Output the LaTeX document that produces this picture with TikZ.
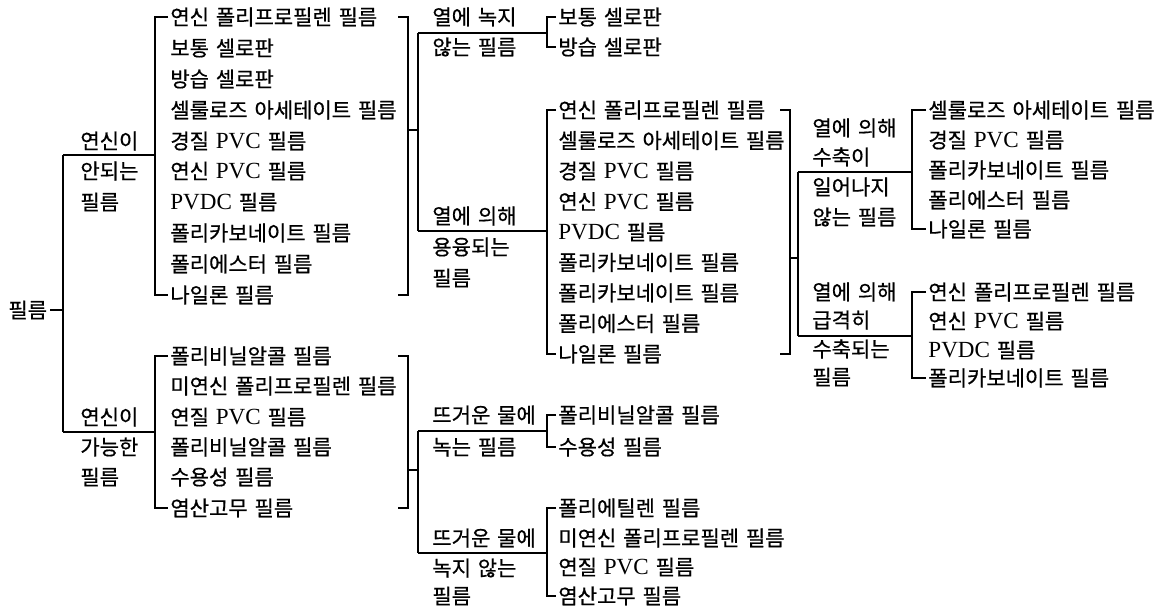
\documentclass[tikz,border=0pt]{standalone}
\usepackage{fontspec}
\setmainfont{Liberation Serif}
\newfontfamily\krfont[WordSpace=1.45,FakeBold=0.6]{Noto Sans CJK KR}
\newfontfamily\latfont[Scale=1.1]{Liberation Serif}
\newcommand{\lat}[1]{{\latfont #1}}
\usetikzlibrary{calc}
\tikzset{
  txt/.style={anchor=west,inner sep=0pt,font=\krfont\fontsize{10.5pt}{12pt}\selectfont},
  ln/.style={line width=0.75pt}
}
% left bracket from first node to last node, #3 = distance of bracket from text
\newcommand{\lbrk}[3]{\draw[ln] ($(#1.west)+(-2,0)$) -- ($(#1.west)+(-#3,0)$) -- ($(#2.west)+(-#3,0)$) -- ($(#2.west)+(-2,0)$);}
% right bracket at x of coordinate #3
\newcommand{\rbrk}[3]{\draw[ln] ($(#1.west -| #3)+(-10,0)$) -- (#1.west -| #3) -- (#2.west -| #3) -- ($(#2.west -| #3)+(-10,0)$);}
\begin{document}
\begin{tikzpicture}[x=0.5pt,y=-0.5pt]
\useasboundingbox (0,0) rectangle (1158,614);

% root
\node[txt] (root) at (8,310) {필름};

% level 1 labels
\node[txt] (la1) at (80,141) {연신이};
\node[txt] (la2) at (80,171) {안되는};
\node[txt] (la3) at (80,202) {필름};
\node[txt] (lb1) at (80,417) {연신이};
\node[txt] (lb2) at (80,447) {가능한};
\node[txt] (lb3) at (80,477) {필름};

% list 1
\node[txt] (l1a) at (170,17)  {연신 폴리프로필렌 필름};
\node[txt] (l1b) at (170,48)  {보통 셀로판};
\node[txt] (l1c) at (170,79)  {방습 셀로판};
\node[txt] (l1d) at (170,110) {셀룰로즈 아세테이트 필름};
\node[txt] (l1e) at (170,141) {경질 \lat{PVC} 필름};
\node[txt] (l1f) at (170,171) {연신 \lat{PVC} 필름};
\node[txt] (l1g) at (170,202) {\lat{PVDC} 필름};
\node[txt] (l1h) at (170,233) {폴리카보네이트 필름};
\node[txt] (l1i) at (170,264) {폴리에스터 필름};
\node[txt] (l1j) at (170,295) {나일론 필름};

% list 2
\node[txt] (l2a) at (170,356) {폴리비닐알콜 필름};
\node[txt] (l2b) at (170,386) {미연신 폴리프로필렌 필름};
\node[txt] (l2c) at (170,417) {연질 \lat{PVC} 필름};
\node[txt] (l2d) at (170,447) {폴리비닐알콜 필름};
\node[txt] (l2e) at (170,477) {수용성 필름};
\node[txt] (l2f) at (170,508) {염산고무 필름};

% level 2 labels
\node[txt] (bl1) at (432,17)  {열에 녹지};
\node[txt] (bl2) at (432,47)  {않는 필름};
\node[txt] (bm1) at (432,216) {열에 의해};
\node[txt] (bm2) at (432,247) {용융되는};
\node[txt] (bm3) at (432,278) {필름};
\node[txt] (cl1) at (432,415) {뜨거운 물에};
\node[txt] (cl2) at (432,447) {녹는 필름};
\node[txt] (cm1) at (432,538) {뜨거운 물에};
\node[txt] (cm2) at (432,568) {녹지 않는};
\node[txt] (cm3) at (432,596) {필름};

% sublist B1
\node[txt] (sa1) at (558,17) {보통 셀로판};
\node[txt] (sa2) at (558,47) {방습 셀로판};
% sublist B2
\node[txt] (sb1) at (558,110)   {연신 폴리프로필렌 필름};
\node[txt] (sb2) at (558,140.5) {셀룰로즈 아세테이트 필름};
\node[txt] (sb3) at (558,171)   {경질 \lat{PVC} 필름};
\node[txt] (sb4) at (558,201.5) {연신 \lat{PVC} 필름};
\node[txt] (sb5) at (558,232)   {\lat{PVDC} 필름};
\node[txt] (sb6) at (558,262.5) {폴리카보네이트 필름};
\node[txt] (sb7) at (558,293)   {폴리카보네이트 필름};
\node[txt] (sb8) at (558,323.5) {폴리에스터 필름};
\node[txt] (sb9) at (558,354)   {나일론 필름};
% sublist C1
\node[txt] (sc1) at (558,415) {폴리비닐알콜 필름};
\node[txt] (sc2) at (558,447) {수용성 필름};
% sublist C2
\node[txt] (sd1) at (558,508) {폴리에틸렌 필름};
\node[txt] (sd2) at (558,538) {미연신 폴리프로필렌 필름};
\node[txt] (sd3) at (558,567) {연질 \lat{PVC} 필름};
\node[txt] (sd4) at (558,596) {염산고무 필름};

% level 3 labels
\node[txt] (dl1) at (812,128) {열에 의해};
\node[txt] (dl2) at (812,157) {수축이};
\node[txt] (dl3) at (812,187) {일어나지};
\node[txt] (dl4) at (812,217) {않는 필름};
\node[txt] (dm1) at (812,292) {열에 의해};
\node[txt] (dm2) at (812,320) {급격히};
\node[txt] (dm3) at (812,349) {수축되는};
\node[txt] (dm4) at (812,377) {필름};

% sublist D1
\node[txt] (ta1) at (928,110) {셀룰로즈 아세테이트 필름};
\node[txt] (ta2) at (928,140) {경질 \lat{PVC} 필름};
\node[txt] (ta3) at (928,170) {폴리카보네이트 필름};
\node[txt] (ta4) at (928,200) {폴리에스터 필름};
\node[txt] (ta5) at (928,229) {나일론 필름};
% sublist D2
\node[txt] (tb1) at (928,292) {연신 폴리프로필렌 필름};
\node[txt] (tb2) at (928,321) {연신 \lat{PVC} 필름};
\node[txt] (tb3) at (928,350) {\lat{PVDC} 필름};
\node[txt] (tb4) at (928,378) {폴리카보네이트 필름};

% ---------- coordinates ----------
\coordinate (ra) at (63,155);
\coordinate (rb) at (63,432);
\coordinate (bx1) at ($(l1a.west)+(-15,0)$);
\coordinate (X1) at (408,0);
\coordinate (s1) at (408,130);
\coordinate (s2) at (408,470);
\coordinate (v1t) at (418,33);
\coordinate (v1b) at (418,231);
\coordinate (v2t) at (418,431);
\coordinate (v2b) at (418,553);
\coordinate (bx2) at ($(sa1.west)+(-11,0)$);
\coordinate (X2) at (790,0);
\coordinate (s3) at (790,258);
\coordinate (v3t) at (798,172);
\coordinate (v3b) at (798,336);
\coordinate (bx3) at ($(ta1.west)+(-16,0)$);

% ---------- connectors ----------
% root
\draw[ln] ($(root.east)+(3,0)$) -- (root.east -| ra);
\draw[ln] (ra) -- (rb);
\draw[ln] (ra) -- (ra -| bx1);
\draw[ln] (rb) -- (rb -| bx1);
% list brackets
\lbrk{l1a}{l1j}{15}
\lbrk{l2a}{l2f}{15}
\rbrk{l1a}{l1j}{X1}
\rbrk{l2a}{l2f}{X1}
% list 1 -> level 2
\draw[ln] (s1) -- (s1 -| v1t);
\draw[ln] (v1t) -- (v1b);
\draw[ln] (v1t) -- (v1t -| bx2);
\draw[ln] (v1b) -- (v1b -| bx2);
% list 2 -> level 2
\draw[ln] (s2) -- (s2 -| v2t);
\draw[ln] (v2t) -- (v2b);
\draw[ln] (v2t) -- (v2t -| bx2);
\draw[ln] (v2b) -- (v2b -| bx2);
% sublist brackets
\lbrk{sa1}{sa2}{11}
\lbrk{sb1}{sb9}{11}
\lbrk{sc1}{sc2}{11}
\lbrk{sd1}{sd4}{11}
\rbrk{sb1}{sb9}{X2}
% B2 -> level 3
\draw[ln] (s3) -- (s3 -| v3t);
\draw[ln] (v3t) -- (v3b);
\draw[ln] (v3t) -- (v3t -| bx3);
\draw[ln] (v3b) -- (v3b -| bx3);
\lbrk{ta1}{ta5}{16}
\lbrk{tb1}{tb4}{16}
\end{tikzpicture}
\end{document}
